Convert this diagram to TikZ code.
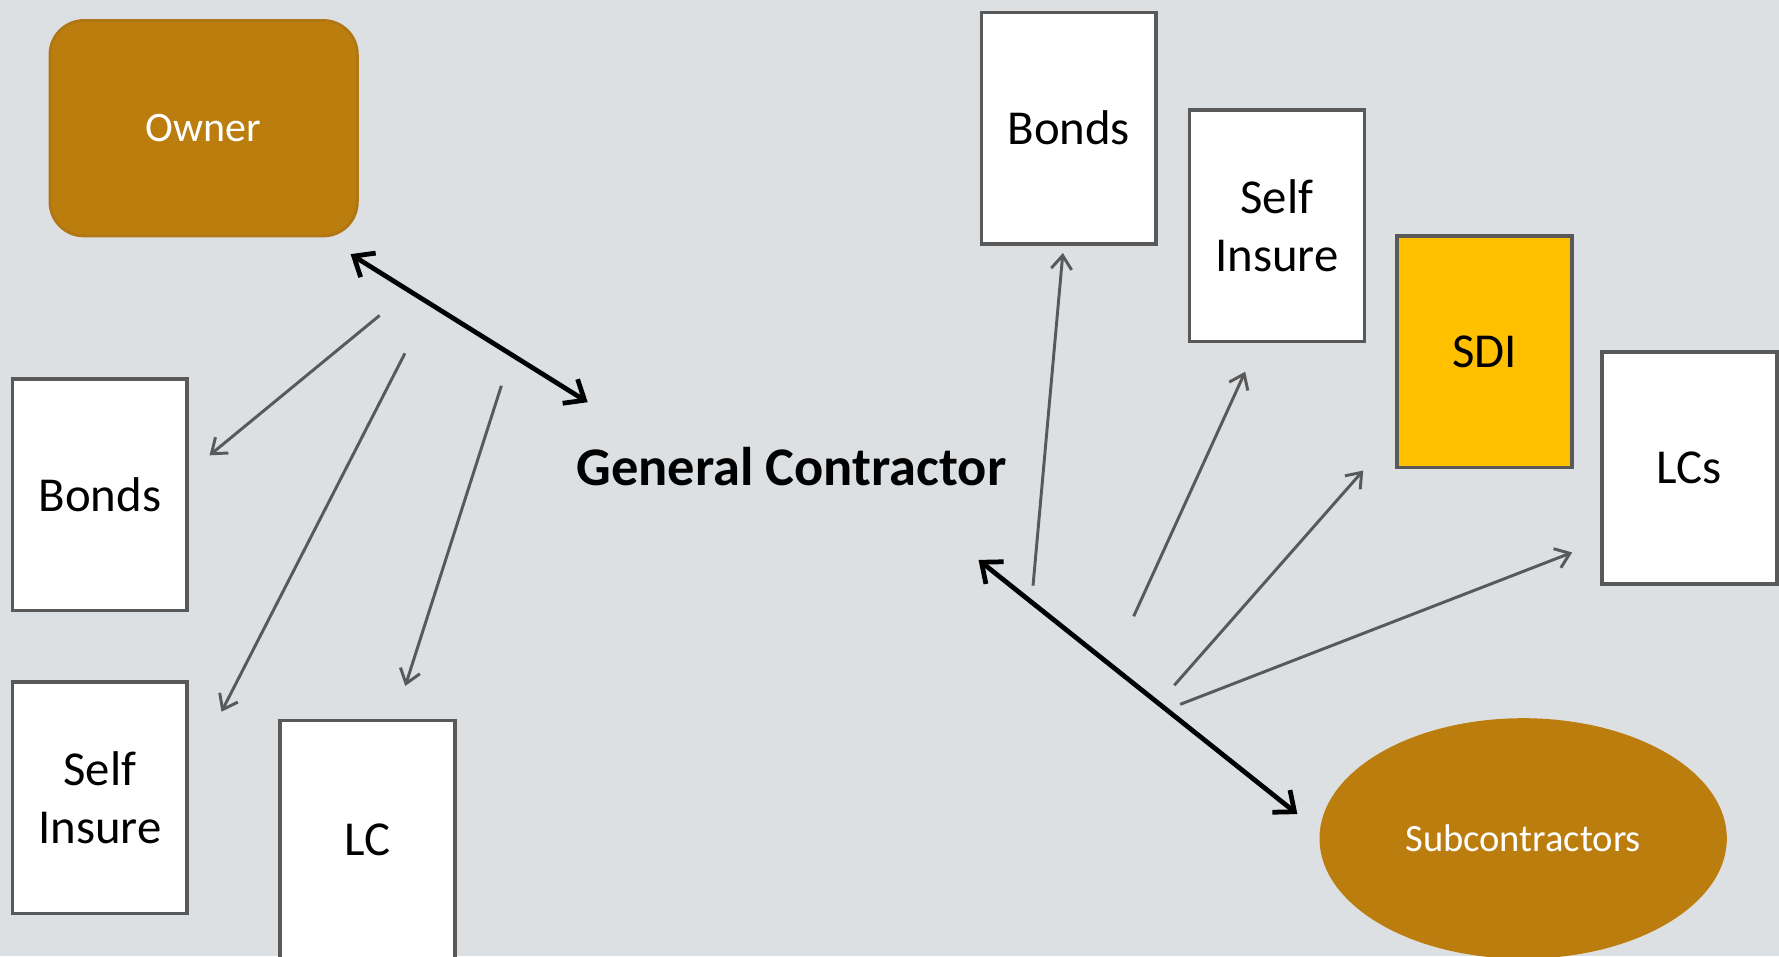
\documentclass[tikz,border=0pt]{standalone}
\usepackage{fontspec}
\setmainfont{Carlito}
\usetikzlibrary{arrows.meta,shapes.geometric}
\definecolor{bg}{HTML}{DDE0E3}
\definecolor{gold}{HTML}{BC7D0F}
\definecolor{goldedge}{HTML}{B07614}
\definecolor{boxedge}{HTML}{595959}
\definecolor{sdiyellow}{HTML}{FFC000}
\begin{document}
\begin{tikzpicture}[x=0.5pt,y=-0.5pt,
  box/.style={draw=boxedge, line width=1.6pt, fill=white, minimum width=77pt,
    minimum height=102pt, inner sep=0pt, align=center,
    font=\fontsize{21.5}{25.5}\selectfont},
  owner/.style={draw=goldedge, line width=1.2pt, fill=gold, rounded corners=15pt,
    minimum width=135.5pt, minimum height=95pt, inner sep=0pt, text=white,
    font=\fontsize{18.5}{22}\selectfont},
  subs/.style={ellipse, fill=gold, minimum width=179.5pt, minimum height=106pt,
    inner sep=0pt, text=white, font=\fontsize{17}{20}\selectfont},
  gc/.style={inner sep=0pt, font=\fontsize{24}{28}\selectfont\bfseries},
  biglink/.style={line width=2.1pt, black, {Straight Barb[length=7.5pt,width=12.5pt]}-{Straight Barb[length=7.5pt,width=12.5pt]}},
  smalllink/.style={line width=1.3pt, boxedge, -{Straight Barb[length=6pt,width=9pt]}}
]
\useasboundingbox[fill=bg] (0,0) rectangle (1568,843);

\node[owner] (owner) at (179.5,113) {Owner};
\node[box] (bondsL) at (88,436) {Bonds};
\node[box] (selfL) at (88,703) {Self\\Insure};
\node[box, minimum height=105pt] (lcL) at (324,740) {LC};
\node[gc] (gc) at (697.5,411) {General Contractor};
\node[box] (bondsR) at (942,113) {Bonds};
\node[box] (selfR) at (1125.5,199) {Self\\Insure};
\node[box, fill=sdiyellow] (sdi) at (1308.5,310) {SDI};
\node[box] (lcs) at (1489,412.5) {LCs};
\node[subs] (subs) at (1342.5,739) {Subcontractors};

% arrow end points
\coordinate (ogA) at (309,224);
\coordinate (ogB) at (518,354.5);
\coordinate (gsA) at (862.5,493.5);
\coordinate (gsB) at (1143.5,717.5);

\coordinate (l1s) at (334.6,278);
\coordinate (l1e) at (184.7,401.3);
\coordinate (l2s) at (356.9,311.4);
\coordinate (l2e) at (195.2,627.3);
\coordinate (l3s) at (441.9,340);
\coordinate (l3e) at (357.2,604.6);

\coordinate (r1s) at (910.5,516.2);
\coordinate (r1e) at (936.8,223);
\coordinate (r2s) at (999.2,543.2);
\coordinate (r2e) at (1097.5,327.6);
\coordinate (r3s) at (1035,604);
\coordinate (r3e) at (1201.5,414.7);
\coordinate (r4s) at (1040.2,620.8);
\coordinate (r4e) at (1385.7,486.9);

\draw[biglink] (ogA) -- (ogB);
\draw[biglink] (gsA) -- (gsB);

\draw[smalllink] (l1s) -- (l1e);
\draw[smalllink] (l2s) -- (l2e);
\draw[smalllink] (l3s) -- (l3e);
\draw[smalllink] (r1s) -- (r1e);
\draw[smalllink] (r2s) -- (r2e);
\draw[smalllink] (r3s) -- (r3e);
\draw[smalllink] (r4s) -- (r4e);
\end{tikzpicture}
\end{document}
